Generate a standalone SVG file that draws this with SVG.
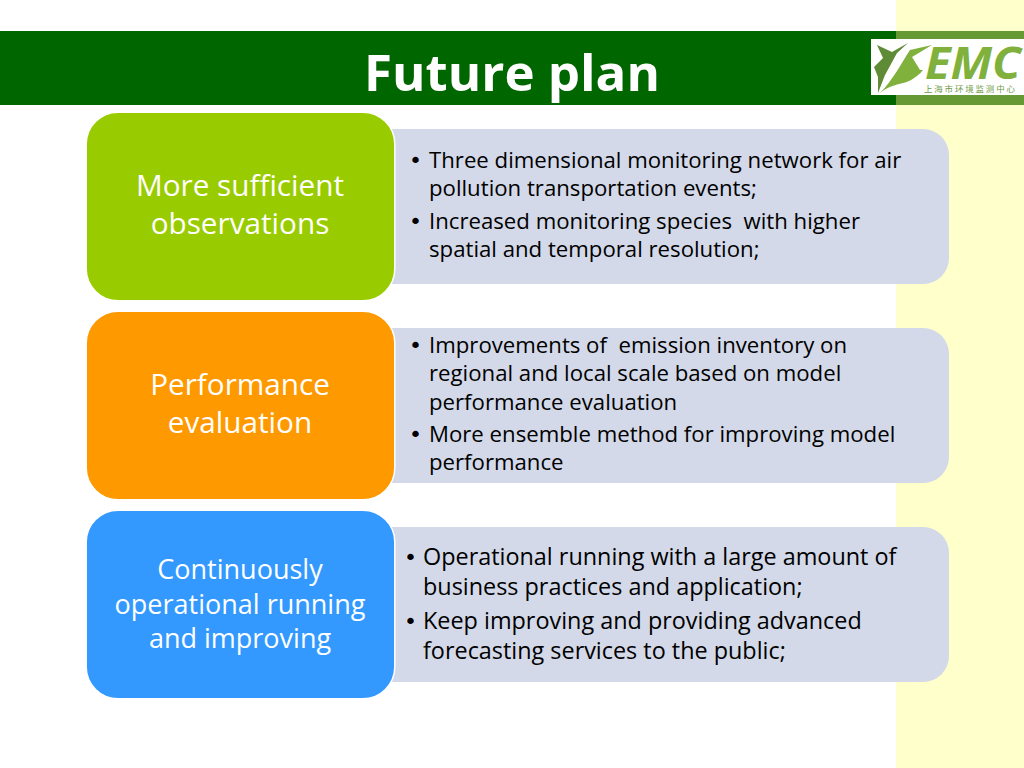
<svg xmlns="http://www.w3.org/2000/svg" width="1024" height="768" viewBox="0 0 1024 768">
<style>
text{font-family:"Open Sans","Noto Sans",sans-serif;white-space:pre}
.h{fill:#fff;font-size:29.7px;text-anchor:middle}
.h3{fill:#fff;font-size:27px;text-anchor:middle}
.b{fill:#000;font-size:22.2px}
.c{fill:#000;font-size:23.4px}
text.d{font-family:"DejaVu Sans",sans-serif;fill:#000;font-size:22px}
.p{fill:#d3d9e8}
.m{stroke:#fff;stroke-width:1.5}
</style>
<rect width="1024" height="768" fill="#fff"/>
<rect x="896" width="128" height="768" fill="#ffffcc"/>
<rect y="31" width="896" height="74" fill="#006600"/>
<rect x="896" y="31" width="128" height="74" fill="#669933"/>
<text x="512" y="91" text-anchor="middle" style="font-size:51px;font-weight:700;fill:#fff">Future plan</text>
<g id="logo">
<rect x="871" y="39" width="153" height="56" fill="#fff"/>
<path d="M874 67L883 58L877 45L892 52L908 43L897 53L885 75L878 93L878 77Z" fill="#5f8a36"/>
<path d="M880 93C893 80 902 62 910 50L932 45L912 57L920 70L923 70C916 79 905 83 903 83C895 85 887 87 880 93Z" fill="#7fb13c"/>
<text x="925" y="79" style="font-size:44px;font-weight:700;font-style:italic;fill:#7fb13c" textLength="96" lengthAdjust="spacingAndGlyphs">EMC</text>
<text x="924" y="92" style="font-family:'Noto Sans CJK SC',sans-serif;font-size:8.5px;fill:#6f9a45" textLength="91">上海市环境监测中心</text>
</g>
<g id="node1">
<rect class="p" x="340" y="129" width="609" height="155" rx="26"/>
<rect class="m" x="86.2" y="112.2" width="308.6" height="188.6" rx="32" fill="#99cc00"/>
<text class="h"><tspan x="240" y="196">More sufficient</tspan><tspan x="240" y="234">observations</tspan></text>
<text class="d" x="409" y="168">•</text>
<text class="b"><tspan x="429" y="168">Three dimensional monitoring network for air</tspan><tspan x="429" y="196">pollution transportation events;</tspan></text>
<text class="d" x="409" y="229">•</text>
<text class="b"><tspan x="429" y="229">Increased monitoring species  with higher</tspan><tspan x="429" y="257">spatial and temporal resolution;</tspan></text>
</g>
<g id="node2">
<rect class="p" x="340" y="328" width="609" height="155" rx="26"/>
<rect class="m" x="86.2" y="311.2" width="308.6" height="188.6" rx="32" fill="#ff9900"/>
<text class="h"><tspan x="240" y="395">Performance</tspan><tspan x="240" y="433">evaluation</tspan></text>
<text class="d" x="409" y="353">•</text>
<text class="b"><tspan x="429" y="353">Improvements of  emission inventory on</tspan><tspan x="429" y="381">regional and local scale based on model</tspan><tspan x="429" y="410">performance evaluation</tspan></text>
<text class="d" x="409" y="442">•</text>
<text class="b"><tspan x="429" y="442">More ensemble method for improving model</tspan><tspan x="429" y="470">performance</tspan></text>
</g>
<g id="node3">
<rect class="p" x="340" y="527" width="609" height="155" rx="26"/>
<rect class="m" x="86.2" y="510.2" width="308.6" height="188.6" rx="32" fill="#3399ff"/>
<text class="h3"><tspan x="240" y="579">Continuously</tspan><tspan x="240" y="614">operational running</tspan><tspan x="240" y="648">and improving</tspan></text>
<text class="d" x="404" y="565">•</text>
<text class="c"><tspan x="423" y="565">Operational running with a large amount of</tspan><tspan x="423" y="595">business practices and application;</tspan></text>
<text class="d" x="404" y="629">•</text>
<text class="c"><tspan x="423" y="629">Keep improving and providing advanced</tspan><tspan x="423" y="659">forecasting services to the public;</tspan></text>
</g>
<g id="connectors"></g>
</svg>
